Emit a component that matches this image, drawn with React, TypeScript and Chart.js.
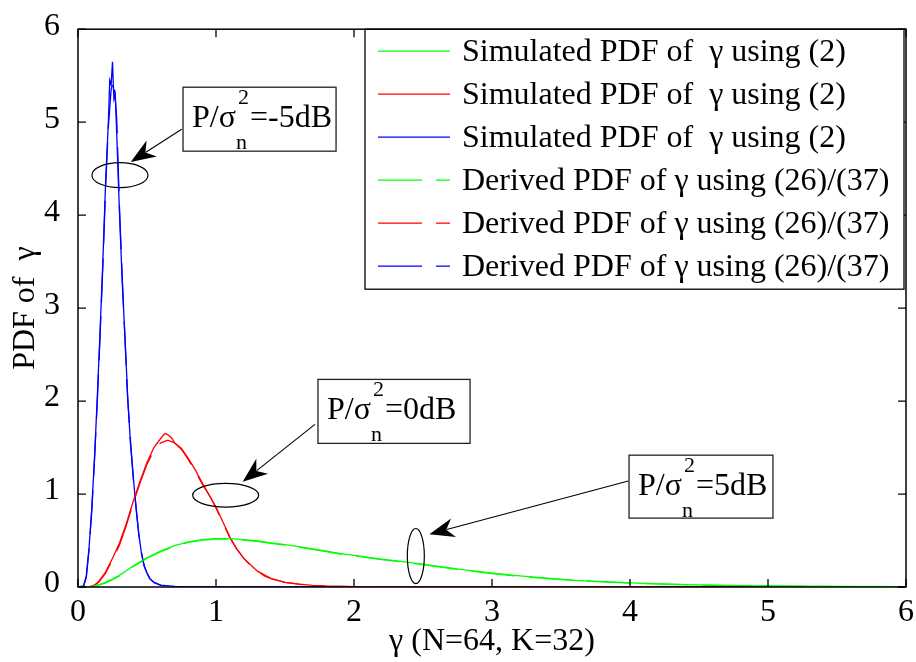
import React, { useEffect, useRef } from "react";
import { Chart, registerables } from "chart.js";

Chart.register(...registerables);

const SERIF = "'Liberation Serif', 'Times New Roman', serif";

const X_TICKS = [0, 1, 2, 3, 4, 5, 6];
const Y_TICKS = [0, 1, 2, 3, 4, 5, 6];

// P/sigma^2 = 5 dB (green)
const greenSimX = [0, 0.1, 0.15, 0.2, 0.25, 0.3, 0.35, 0.4, 0.45, 0.5, 0.6, 0.7, 0.8, 0.9, 1.0, 1.1, 1.2, 1.3, 1.4, 1.5, 1.6, 1.7, 1.8, 1.9, 2.0, 2.2, 2.4, 2.6, 2.8, 3.0, 3.2, 3.4, 3.6, 3.8, 4.0, 4.2, 4.4, 4.6, 4.8, 5.0, 5.5, 6.0];
const greenSimY = [0, 0.006, 0.022, 0.05, 0.085, 0.125, 0.175, 0.225, 0.27, 0.315, 0.385, 0.445, 0.485, 0.51, 0.52, 0.52, 0.51, 0.495, 0.475, 0.455, 0.435, 0.41, 0.385, 0.36, 0.34, 0.3, 0.265, 0.225, 0.185, 0.15, 0.12, 0.095, 0.072, 0.057, 0.045, 0.034, 0.026, 0.019, 0.014, 0.011, 0.006, 0.003];
const greenDerX = [0, 0.1, 0.15, 0.2, 0.25, 0.3, 0.35, 0.4, 0.45, 0.5, 0.6, 0.7, 0.8, 0.9, 1.0, 1.1, 1.2, 1.3, 1.4, 1.5, 1.6, 1.7, 1.8, 1.9, 2.0, 2.2, 2.4, 2.6, 2.8, 3.0, 3.2, 3.4, 3.6, 3.8, 4.0, 4.2, 4.4, 4.6, 4.8, 5.0, 5.5, 6.0];
const greenDerY = [0, 0.005, 0.02, 0.045, 0.08, 0.12, 0.17, 0.22, 0.265, 0.31, 0.38, 0.44, 0.48, 0.505, 0.515, 0.515, 0.505, 0.49, 0.47, 0.45, 0.43, 0.405, 0.38, 0.355, 0.335, 0.295, 0.26, 0.22, 0.18, 0.145, 0.115, 0.09, 0.07, 0.055, 0.043, 0.033, 0.025, 0.018, 0.013, 0.01, 0.005, 0.003];

// P/sigma^2 = 0 dB (red)
const redSimX = [0, 0.08, 0.12, 0.15, 0.2, 0.25, 0.3, 0.35, 0.4, 0.45, 0.5, 0.55, 0.6, 0.63, 0.65, 0.68, 0.7, 0.75, 0.8, 0.85, 0.9, 0.95, 1.0, 1.05, 1.1, 1.15, 1.2, 1.25, 1.3, 1.35, 1.4, 1.5, 1.6, 1.7, 1.8, 2.0, 2.5, 3, 4, 5, 6];
const redSimY = [0, 0, 0.02, 0.06, 0.16, 0.31, 0.47, 0.68, 0.92, 1.14, 1.34, 1.5, 1.6, 1.65, 1.64, 1.6, 1.55, 1.49, 1.38, 1.26, 1.12, 0.99, 0.86, 0.7, 0.54, 0.41, 0.31, 0.24, 0.17, 0.13, 0.09, 0.05, 0.03, 0.017, 0.01, 0.004, 0.001, 0, 0, 0, 0];
const redDerX = [0, 0.08, 0.12, 0.15, 0.2, 0.25, 0.3, 0.35, 0.4, 0.45, 0.5, 0.55, 0.6, 0.65, 0.7, 0.75, 0.8, 0.85, 0.9, 0.95, 1.0, 1.05, 1.1, 1.15, 1.2, 1.25, 1.3, 1.35, 1.4, 1.5, 1.6, 1.7, 1.8, 2.0, 2.5, 6];
const redDerY = [0, 0, 0.02, 0.05, 0.15, 0.29, 0.45, 0.66, 0.9, 1.12, 1.32, 1.47, 1.55, 1.58, 1.55, 1.48, 1.37, 1.24, 1.11, 0.99, 0.85, 0.69, 0.53, 0.41, 0.31, 0.23, 0.17, 0.12, 0.09, 0.05, 0.03, 0.016, 0.009, 0.003, 0.001, 0];

// P/sigma^2 = -5 dB (blue)
const blueSimX = [0, 0.04, 0.06, 0.08, 0.1, 0.12, 0.14, 0.16, 0.18, 0.2, 0.22, 0.23, 0.24, 0.25, 0.26, 0.27, 0.28, 0.3, 0.32, 0.34, 0.36, 0.38, 0.4, 0.42, 0.44, 0.46, 0.48, 0.5, 0.52, 0.55, 0.6, 0.7, 0.8, 1.0, 2.0, 3.0, 4.0, 5.0, 6.0];
const blueSimY = [0, 0.01, 0.12, 0.42, 0.85, 1.4, 2.05, 2.75, 3.5, 4.35, 5.0, 5.45, 5.4, 5.65, 5.25, 5.3, 4.9, 4.05, 3.3, 2.7, 2.05, 1.55, 1.2, 0.85, 0.58, 0.36, 0.22, 0.15, 0.09, 0.05, 0.02, 0.006, 0.002, 0, 0, 0, 0, 0, 0];
const blueDerX = [0, 0.04, 0.06, 0.08, 0.1, 0.12, 0.14, 0.16, 0.18, 0.2, 0.22, 0.24, 0.26, 0.28, 0.3, 0.32, 0.34, 0.36, 0.38, 0.4, 0.42, 0.44, 0.46, 0.48, 0.5, 0.52, 0.55, 0.6, 0.7, 0.8, 1.0, 6.0];
const blueDerY = [0, 0.01, 0.1, 0.4, 0.82, 1.38, 2.0, 2.7, 3.45, 4.3, 4.95, 5.35, 5.45, 5.05, 4.1, 3.35, 2.68, 2.02, 1.58, 1.18, 0.88, 0.57, 0.37, 0.23, 0.15, 0.09, 0.05, 0.018, 0.005, 0.001, 0, 0];

const LEGEND_LABELS = [
  "Simulated PDF of  γ using (2)",
  "Simulated PDF of  γ using (2)",
  "Simulated PDF of  γ using (2)",
  "Derived PDF of γ using (26)/(37)",
  "Derived PDF of γ using (26)/(37)",
  "Derived PDF of γ using (26)/(37)",
];

const X_TITLE = "γ (N=64, K=32)";
const Y_TITLE = "PDF of  γ";

const SNR_LABELS = ["-5dB", "0dB", "5dB"];

const GREEN = "#00ff00";
const RED = "#ff0000";
const BLUE = "#0000ff";
const DASH = [44, 14];

const SERIES = [
  { xs: greenSimX, ys: greenSimY, color: GREEN, dash: [] as number[] },
  { xs: redSimX, ys: redSimY, color: RED, dash: [] as number[] },
  { xs: blueSimX, ys: blueSimY, color: BLUE, dash: [] as number[] },
  { xs: greenDerX, ys: greenDerY, color: GREEN, dash: DASH },
  { xs: redDerX, ys: redDerY, color: RED, dash: DASH },
  { xs: blueDerX, ys: blueDerY, color: BLUE, dash: DASH },
];

// annotation geometry in data units
const ANNOTATIONS = [
  { box: [0.761, 1.87, 5.376, 4.688], ellipse: [0.304, 4.43, 0.203, 0.134], arrow: [0.751, 4.924, 0.382, 4.571] },
  { box: [1.739, 2.841, 2.233, 1.545], ellipse: [1.07, 0.987, 0.239, 0.127], arrow: [1.717, 1.749, 1.193, 1.132] },
  { box: [3.993, 5.036, 1.418, 0.741], ellipse: [2.448, 0.333, 0.0616, 0.296], arrow: [3.988, 1.14, 2.546, 0.568] },
];

const FONT_MAIN = 32;
const FONT_SMALL = 22;

function drawSnrLabel(ctx: CanvasRenderingContext2D, left: number, top: number, db: string) {
  ctx.fillStyle = "#000";
  ctx.textAlign = "left";
  ctx.textBaseline = "alphabetic";
  ctx.font = `${FONT_MAIN}px ${SERIF}`;
  let cx = left + 9;
  const base = top + 40;
  ctx.fillText("P/σ", cx, base);
  cx += ctx.measureText("P/σ").width;
  ctx.font = `${FONT_SMALL}px ${SERIF}`;
  ctx.fillText("2", cx + 2, top + 17);
  ctx.fillText("n", cx, top + 62);
  cx += Math.max(ctx.measureText("2").width + 2, ctx.measureText("n").width) + 1;
  ctx.font = `${FONT_MAIN}px ${SERIF}`;
  ctx.fillText("=" + db, cx, base);
}

function drawArrow(ctx: CanvasRenderingContext2D, x0: number, y0: number, x1: number, y1: number) {
  const dx = x0 - x1;
  const dy = y0 - y1;
  const len = Math.hypot(dx, dy);
  const ux = dx / len;
  const uy = dy / len;
  const nx = -uy;
  const ny = ux;
  const L = 25;
  const W = 9.5;
  ctx.beginPath();
  ctx.moveTo(x0, y0);
  ctx.lineTo(x1 + ux * 18, y1 + uy * 18);
  ctx.stroke();
  ctx.beginPath();
  ctx.moveTo(x1, y1);
  ctx.lineTo(x1 + ux * L + nx * W, y1 + uy * L + ny * W);
  ctx.lineTo(x1 + ux * L * 0.7, y1 + uy * L * 0.7);
  ctx.lineTo(x1 + ux * L - nx * W, y1 + uy * L - ny * W);
  ctx.closePath();
  ctx.fill();
}

const overlayPlugin = {
  id: "overlay",
  afterDatasetsDraw(chart: any) {
    const ctx: CanvasRenderingContext2D = chart.ctx;
    const a = chart.chartArea;
    const xs = chart.scales.x;
    const ys = chart.scales.y;
    ctx.save();
    ctx.strokeStyle = "#000";
    ctx.fillStyle = "#000";
    ctx.lineWidth = 1.3;
    ctx.setLineDash([]);
    // inward ticks
    const tl = 8;
    ctx.beginPath();
    X_TICKS.forEach((v) => {
      const px = xs.getPixelForValue(v);
      ctx.moveTo(px, a.bottom);
      ctx.lineTo(px, a.bottom - tl);
      ctx.moveTo(px, a.top);
      ctx.lineTo(px, a.top + tl);
    });
    Y_TICKS.forEach((v) => {
      const py = ys.getPixelForValue(v);
      ctx.moveTo(a.left, py);
      ctx.lineTo(a.left + tl, py);
      ctx.moveTo(a.right, py);
      ctx.lineTo(a.right - tl, py);
    });
    ctx.stroke();

    // annotations
    ANNOTATIONS.forEach((an, i) => {
      const [bx0, bx1, by0, by1] = an.box;
      const l = xs.getPixelForValue(bx0);
      const r = xs.getPixelForValue(bx1);
      const t = ys.getPixelForValue(by0);
      const b = ys.getPixelForValue(by1);
      ctx.fillStyle = "#fff";
      ctx.fillRect(l, t, r - l, b - t);
      ctx.strokeStyle = "#222";
      ctx.lineWidth = 1.3;
      ctx.strokeRect(l, t, r - l, b - t);
      drawSnrLabel(ctx, l, t, SNR_LABELS[i]);
      const [ecx, ecy, erx, ery] = an.ellipse;
      const pcx = xs.getPixelForValue(ecx);
      const pcy = ys.getPixelForValue(ecy);
      const prx = xs.getPixelForValue(ecx + erx) - pcx;
      const pry = pcy - ys.getPixelForValue(ecy + ery);
      ctx.strokeStyle = "#000";
      ctx.lineWidth = 1.2;
      ctx.beginPath();
      ctx.ellipse(pcx, pcy, prx, pry, 0, 0, Math.PI * 2);
      ctx.stroke();
      const [ax0, ay0, ax1, ay1] = an.arrow;
      ctx.fillStyle = "#000";
      ctx.lineWidth = 1.1;
      drawArrow(ctx, xs.getPixelForValue(ax0), ys.getPixelForValue(ay0), xs.getPixelForValue(ax1), ys.getPixelForValue(ay1));
    });

    // legend
    const lw = 539;
    const lh = 260;
    const ll = a.right - lw - 2;
    const lt = a.top;
    ctx.fillStyle = "#fff";
    ctx.fillRect(ll, lt, lw, lh);
    ctx.strokeStyle = "#000";
    ctx.lineWidth = 1.3;
    ctx.strokeRect(ll, lt, lw, lh);
    SERIES.forEach((s, i) => {
      const cy = lt + 22 + i * 43;
      ctx.strokeStyle = s.color;
      ctx.lineWidth = 1.3;
      ctx.setLineDash(s.dash);
      ctx.beginPath();
      ctx.moveTo(ll + 13, cy);
      ctx.lineTo(ll + 85, cy);
      ctx.stroke();
      ctx.setLineDash([]);
      ctx.fillStyle = "#000";
      ctx.font = `${FONT_MAIN}px ${SERIF}`;
      ctx.textAlign = "left";
      ctx.textBaseline = "middle";
      ctx.fillText(LEGEND_LABELS[i], ll + 97, cy + 1);
    });

    // plot box
    ctx.strokeStyle = "#000";
    ctx.lineWidth = 1.5;
    ctx.strokeRect(a.left, a.top, a.right - a.left, a.bottom - a.top);
    ctx.restore();
  },
};

export default function App() {
  const ref = useRef<HTMLCanvasElement | null>(null);
  useEffect(() => {
    const canvas = ref.current;
    if (!canvas) return;
    const chart = new Chart(canvas, {
      type: "line",
      data: {
        datasets: SERIES.map((s, i) => ({
          label: LEGEND_LABELS[i],
          data: s.xs.map((x, j) => ({ x, y: s.ys[j] })),
          borderColor: s.color,
          backgroundColor: s.color,
          borderWidth: 1.3,
          borderDash: s.dash,
          pointRadius: 0,
          tension: 0,
          fill: false,
        })),
      },
      options: {
        responsive: false,
        animation: false,
        devicePixelRatio: 1,
        layout: { padding: { left: 0, top: 20, right: 10, bottom: 0 } },
        plugins: { legend: { display: false }, tooltip: { enabled: false } },
        events: [],
        scales: {
          x: {
            type: "linear",
            min: 0,
            max: 6,
            grid: { display: false },
            border: { display: false },
            afterFit: (s: any) => {
              s.height = 75;
            },
            ticks: {
              stepSize: 1,
              autoSkip: false,
              padding: -2,
              color: "#000",
              font: { family: SERIF, size: FONT_MAIN },
            },
            title: {
              display: true,
              text: X_TITLE,
              color: "#000",
              font: { family: SERIF, size: FONT_MAIN },
              padding: { top: 0, bottom: 1 },
            },
          },
          y: {
            type: "linear",
            min: 0,
            max: 6,
            grid: { display: false },
            border: { display: false },
            afterFit: (s: any) => {
              s.width = 78;
            },
            ticks: {
              stepSize: 1,
              autoSkip: false,
              padding: 10,
              labelOffset: -3,
              color: "#000",
              font: { family: SERIF, size: FONT_MAIN },
            },
            title: {
              display: true,
              text: Y_TITLE,
              color: "#000",
              font: { family: SERIF, size: FONT_MAIN },
              padding: { top: 6, bottom: 0 },
            },
          },
        },
      },
      plugins: [overlayPlugin],
    });
    return () => chart.destroy();
  }, []);
  return (
    <div style={{ position: "fixed", left: 0, top: 0, width: 916, height: 662, background: "#fff" }}>
      <canvas ref={ref} width={916} height={662} style={{ display: "block", width: 916, height: 662 }} />
    </div>
  );
}
